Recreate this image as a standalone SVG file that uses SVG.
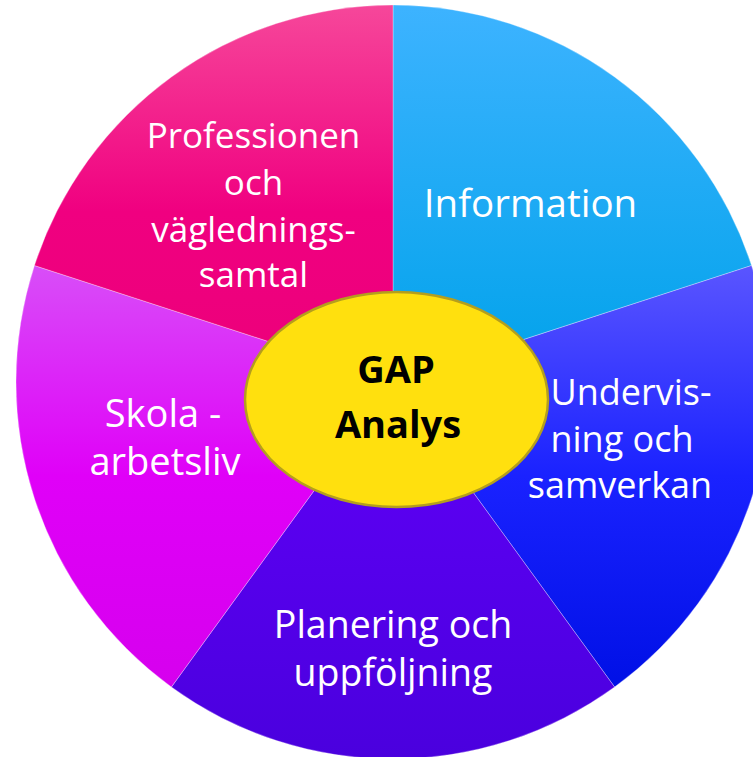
<svg xmlns="http://www.w3.org/2000/svg" width="753" height="757" viewBox="0 0 753 757">
  <defs>
    <linearGradient id="gPink" x1="0" y1="0" x2="0" y2="1">
      <stop offset="0" stop-color="#F6479A"/>
      <stop offset="0.55" stop-color="#F00080"/>
      <stop offset="1" stop-color="#EC007A"/>
    </linearGradient>
    <linearGradient id="gInfo" x1="0" y1="0" x2="0" y2="1">
      <stop offset="0" stop-color="#3DB3FF"/>
      <stop offset="1" stop-color="#00A2EA"/>
    </linearGradient>
    <linearGradient id="gUnder" x1="0" y1="0" x2="0" y2="1">
      <stop offset="0" stop-color="#5A55FF"/>
      <stop offset="0.5" stop-color="#1A22FF"/>
      <stop offset="1" stop-color="#0010E6"/>
    </linearGradient>
    <linearGradient id="gPlan" x1="0" y1="0" x2="0" y2="1">
      <stop offset="0" stop-color="#6000F8"/>
      <stop offset="1" stop-color="#4A00DE"/>
    </linearGradient>
    <linearGradient id="gSkola" x1="0" y1="0" x2="0" y2="1">
      <stop offset="0" stop-color="#D84EF8"/>
      <stop offset="0.5" stop-color="#E000F8"/>
      <stop offset="1" stop-color="#D600EE"/>
    </linearGradient>
  </defs>
  <style>
    .seg { stroke: #ffffff; stroke-width: 0.6; stroke-opacity: 0.5; }
    .lbl { font-family: "Open Sans", "Liberation Sans", sans-serif; fill: #ffffff; text-anchor: middle; }
    .ctr { font-family: "Open Sans", "Liberation Sans", sans-serif; font-weight: bold; fill: #000000; text-anchor: middle; font-size: 38px; }
  </style>

  <g id="node-information">
    <path class="seg" fill="url(#gInfo)" d="M393,382 L393,5 A377,377 0 0 1 751.55,265.5 Z"/>
    <text class="lbl" font-size="38.5" x="530.5" y="217">Information</text>
  </g>

  <g id="node-undervisning">
    <path class="seg" fill="url(#gUnder)" d="M393,382 L751.55,265.5 A377,377 0 0 1 614.6,687 Z"/>
    <text class="lbl" font-size="36" x="631" y="405">Undervis-</text>
    <text class="lbl" font-size="36" x="622" y="451.7">ning och</text>
    <text class="lbl" font-size="36" x="620" y="498.3">samverkan</text>
  </g>

  <g id="node-planering">
    <path class="seg" fill="url(#gPlan)" d="M393,382 L614.6,687 A377,377 0 0 1 171.4,687 Z"/>
    <text class="lbl" font-size="37.5" x="393" y="638.3">Planering och</text>
    <text class="lbl" font-size="37.5" x="393" y="685.5">uppföljning</text>
  </g>

  <g id="node-skola">
    <path class="seg" fill="url(#gSkola)" d="M393,382 L171.4,687 A377,377 0 0 1 34.45,265.5 Z"/>
    <text class="lbl" font-size="38" x="163" y="426.7">Skola -</text>
    <text class="lbl" font-size="38" x="165" y="475">arbetsliv</text>
  </g>

  <g id="node-professionen">
    <path class="seg" fill="url(#gPink)" d="M393,382 L34.45,265.5 A377,377 0 0 1 393,5 Z"/>
    <text class="lbl" font-size="35" x="253.5" y="148">Professionen</text>
    <text class="lbl" font-size="35" x="253.5" y="195">och</text>
    <text class="lbl" font-size="35" x="253.5" y="241.5">väglednings-</text>
    <text class="lbl" font-size="35" x="253.5" y="287">samtal</text>
  </g>

  <g id="connectors"></g>

  <g id="node-gap">
    <ellipse cx="396.5" cy="399.5" rx="151.5" ry="107.5" fill="#FFE00E" stroke="#B49E1E" stroke-width="2.5"/>
    <text class="ctr" x="396" y="383">GAP</text>
    <text class="ctr" x="398" y="438.3">Analys</text>
  </g>
</svg>
